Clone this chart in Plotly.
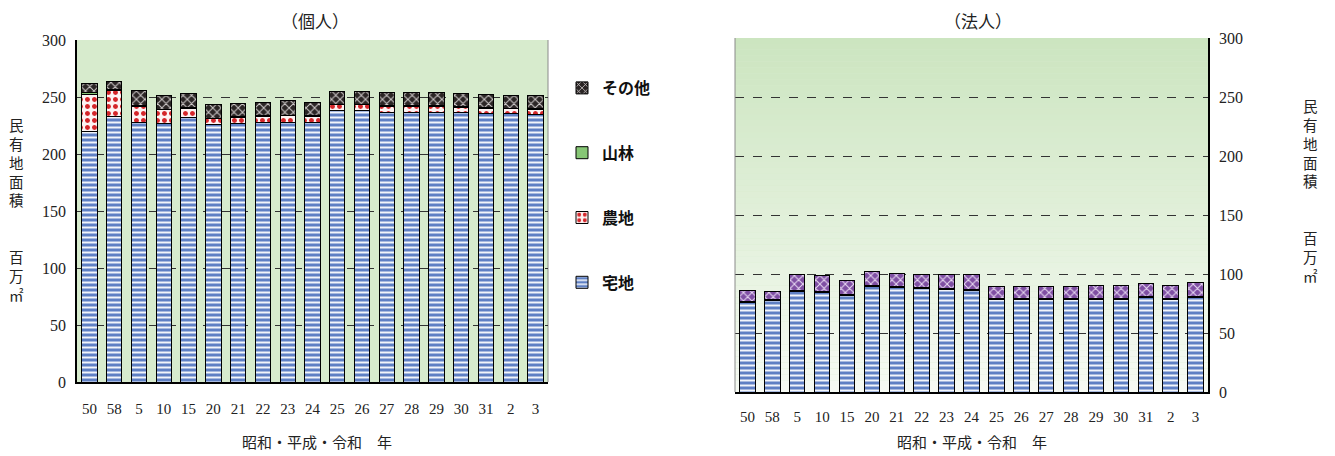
import plotly.graph_objects as go

cats = ["50", "58", "5", "10", "15", "20", "21", "22", "23", "24", "25", "26",
        "27", "28", "29", "30", "31", "2", "3"]

# 個人 (million m2)
takuchi_k = [220.0, 232.7, 228.0, 227.0, 232.0, 226.0, 227.0, 227.5, 228.0, 228.0,
             238.0, 238.0, 236.6, 236.6, 236.6, 236.6, 235.7, 235.7, 234.8]
nouchi_k = [32.0, 23.0, 14.0, 11.7, 8.0, 5.0, 5.0, 5.5, 5.5, 5.0,
            5.0, 5.0, 5.5, 5.5, 5.5, 4.4, 4.4, 4.0, 4.4]
sanrin_k = [1.8, 0.8, 0.5, 0.5, 0.5, 0.5, 0.5, 0.5, 0.5, 0.5,
            0.5, 0.5, 0.5, 0.5, 0.5, 0.5, 0.5, 0.5, 0.5]
sonota_k = [8.2, 7.0, 13.5, 12.0, 12.5, 12.0, 12.0, 12.0, 12.5, 12.0,
            11.5, 11.5, 11.5, 11.5, 11.5, 11.2, 12.0, 11.5, 11.2]

# 法人 (million m2)
takuchi_h = [76.0, 77.6, 85.2, 84.7, 81.8, 89.5, 88.6, 87.5, 86.7, 86.1,
             78.2, 78.2, 78.2, 78.2, 78.8, 78.8, 80.1, 78.2, 80.4]
nouchi_h = [0.5] * 19
sanrin_h = [0.3] * 19
sonota_h = [9.2, 6.8, 13.2, 13.2, 12.0, 11.4, 11.4, 11.7, 11.9, 12.5,
            10.5, 10.5, 10.5, 10.5, 10.5, 10.7, 10.8, 11.3, 11.2]

names = ["宅地", "農地", "山林", "その他"]
ranks = {"その他": 1, "山林": 2, "農地": 3, "宅地": 4}

OFF = 8  # default body margin of the html page
W, H = 1335 - OFF, 456 - OFF
def px(x): return (x - OFF) / W
def py(y): return 1 - (y - OFF) / H

fig = go.Figure()

styles_k = {
    "宅地": dict(color="#6f8ccb", pattern=dict(shape="-", fgcolor="#f2f5fb", bgcolor="#5f80c4", size=5, solidity=0.4)),
    "農地": dict(color="#fbeaea", pattern=dict(shape=".", fgcolor="#d4262a", bgcolor="#fdf3f3", size=7, solidity=0.4)),
    "山林": dict(color="#86c675", pattern=dict(shape="", fgcolor="#86c675")),
    "その他": dict(color="#3a3434", pattern=dict(shape="x", fgcolor="#cfcaca", bgcolor="#2b2525", size=6, solidity=0.3)),
}
styles_h = dict(styles_k)
styles_h["その他"] = dict(color="#8c5fae", pattern=dict(shape="x", fgcolor="#eadcf4", bgcolor="#7f4fa3", size=6, solidity=0.3))

data_k = [takuchi_k, nouchi_k, sanrin_k, sonota_k]
data_h = [takuchi_h, nouchi_h, sanrin_h, sonota_h]

for nm, vals in zip(names, data_k):
    st = styles_k[nm]
    fig.add_trace(go.Bar(x=cats, y=vals, name=nm, legendgroup=nm, legendrank=ranks[nm],
                         xaxis="x", yaxis="y",
                         marker=dict(color=st["color"], pattern=st["pattern"],
                                     line=dict(color="black", width=1)),
                         showlegend=True))
for nm, vals in zip(names, data_h):
    st = styles_h[nm]
    fig.add_trace(go.Bar(x=cats, y=vals, name=nm, legendgroup=nm, legendrank=ranks[nm],
                         xaxis="x2", yaxis="y2",
                         marker=dict(color=st["color"], pattern=st["pattern"],
                                     line=dict(color="black", width=1)),
                         showlegend=False))

num_font = dict(family="Liberation Serif, Noto Sans CJK JP", size=16, color="#222")

xdom1 = [px(77), px(548)]
ydom1 = [py(382), py(40)]
xdom2 = [px(735), px(1208)]
ydom2 = [py(392), py(38)]

common_y = dict(range=[0, 300], dtick=50, showgrid=True, gridcolor="#333", griddash="dash",
                gridwidth=1, zeroline=False, showline=True, linecolor="black", linewidth=1.5,
                ticks="", tickfont=num_font, automargin=False, fixedrange=True)
common_x = dict(type="category", showgrid=False, showline=True, linecolor="black", linewidth=1.5,
                ticks="", automargin=False, fixedrange=True,
                tickfont=dict(family="Liberation Serif, Noto Sans CJK JP", size=15, color="#222"))

shapes = []
# gradient background for 法人
n = 60
top_c = (204, 229, 192)
bot_c = (246, 250, 243)
for i in range(n):
    t = i / (n - 1)
    c = tuple(round(top_c[k] + (bot_c[k] - top_c[k]) * t) for k in range(3))
    shapes.append(dict(type="rect", xref="x2 domain", yref="y2 domain", x0=0, x1=1,
                       y0=1 - (i + 1) / n, y1=1 - i / n, fillcolor="rgb(%d,%d,%d)" % c,
                       line=dict(width=0), layer="below"))
# side frame lines (gray)
shapes.append(dict(type="line", xref="x domain", yref="y domain", x0=1, x1=1, y0=0, y1=1,
                   line=dict(color="#8a8a8a", width=1), layer="below"))
shapes.append(dict(type="line", xref="x2 domain", yref="y2 domain", x0=0, x1=0, y0=0, y1=1,
                   line=dict(color="#8a8a8a", width=1), layer="above"))

ylab = "民<br>有<br>地<br>面<br>積<br><br><br>百<br>万<br>㎡"
jp_font = dict(family="Noto Sans CJK JP", size=15, color="#222")
ylab_font = dict(family="Noto Sans CJK JP", size=14.5, color="#222")

def ann(text, x, y, font):
    return dict(text=text, x=px(x), y=py(y), xref="paper", yref="paper", showarrow=False,
                xanchor="center", yanchor="middle", font=font, align="center", borderpad=0)

annotations = [
    ann("（個人）", 315, 21, dict(family="Noto Sans CJK JP", size=17, color="#222")),
    ann("（法人）", 978, 21, dict(family="Noto Sans CJK JP", size=17, color="#222")),
    ann("昭和・平成・令和　年", 317, 441, jp_font),
    ann("昭和・平成・令和　年", 972, 441, jp_font),
    ann(ylab, 16, 209, ylab_font),
    ann(ylab, 1310, 190, ylab_font),
]

fig.update_layout(
    template="none",
    width=W, height=H,
    margin=dict(l=0, r=0, t=0, b=0, autoexpand=False),
    paper_bgcolor="white",
    plot_bgcolor="#d7ebcd",
    barmode="stack",
    bargap=0.38,
    xaxis=dict(domain=xdom1, anchor="y", ticklabelstandoff=12, **common_x),
    yaxis=dict(domain=ydom1, anchor="x", ticklabelstandoff=6, **common_y),
    xaxis2=dict(domain=xdom2, anchor="y2", ticklabelstandoff=10, **common_x),
    yaxis2=dict(domain=ydom2, anchor="x2", side="right", ticklabelstandoff=6, **common_y),
    legend=dict(x=px(562), y=py(71), xanchor="left", yanchor="top",
                traceorder="grouped", tracegroupgap=41,
                font=dict(family="Noto Sans CJK JP", size=16, color="#111", weight="bold"),
                bgcolor="rgba(0,0,0,0)", itemwidth=30),
    shapes=shapes,
    annotations=annotations,
    showlegend=True,
)

fig.write_html("out.html")
